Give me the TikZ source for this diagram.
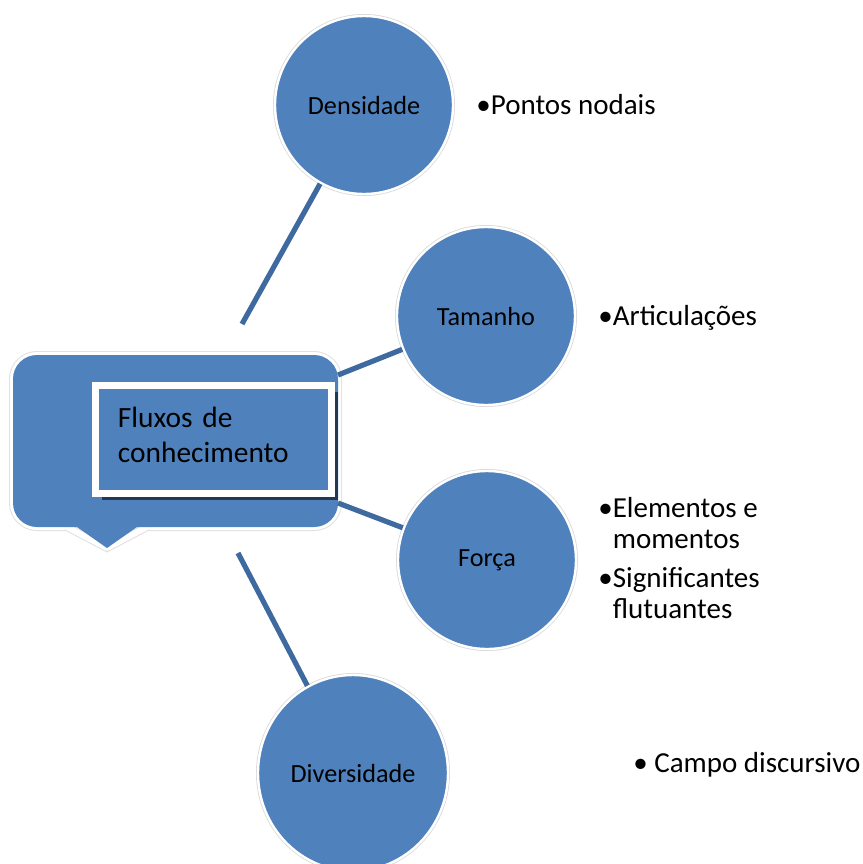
\documentclass[tikz,border=0pt]{standalone}
\usepackage{fontspec}
\setmainfont{Carlito}
\usetikzlibrary{shapes.geometric,shadows}
\definecolor{officeblue}{RGB}{79,129,189}
\definecolor{linkblue}{RGB}{62,106,160}
\begin{document}
\begin{tikzpicture}[x=0.5pt, y=-0.5pt,
  topic/.style={circle, fill=officeblue, draw=white, line width=1.2pt,
    preaction={draw=black!15, line width=2pt},
    minimum size=89pt, inner sep=0pt, font=\fontsize{13.1}{15}\selectfont},
  link/.style={draw=linkblue, line width=2.6pt},
  note/.style={anchor=base west, inner sep=0pt, align=left,
    font=\fontsize{14.5}{15.5}\selectfont}
]
\useasboundingbox (0,0) rectangle (863,864);

% speech bubble behind the title
\path[draw=white, line width=3pt, preaction={draw=black!12, line width=4pt},
  rounded corners=12pt] (13,355) rectangle (338,527);
\path[draw=white, line width=3pt, line join=round,
  preaction={draw=black!12, line width=4pt}] (67,527) -- (107,548) -- (147,527);
\fill[officeblue, rounded corners=12pt] (13,355) rectangle (338,527);
\fill[officeblue] (67,520) -- (107,548) -- (147,520) -- cycle;

\node (fluxos) [fill=officeblue, draw=white, line width=3.5pt,
  minimum width=118pt, minimum height=54pt, text width=95.5pt,
  inner xsep=11.25pt, inner ysep=0pt, text depth=22pt, align=left,
  font=\fontsize{14.7}{17.5}\selectfont,
  drop shadow={shadow xshift=3pt, shadow yshift=-3pt,
    fill=black!70!officeblue, opacity=0.8}]
  at (213.5,439.5) {Fluxos de\\conhecimento};

\node (dens) [topic] at (364,105) {Densidade};
\node (tam) [topic] at (486,316) {Tamanho};
\node (forca) [topic] at (487,560) {Força};
\node (div) [topic, ellipse, minimum width=95pt, minimum height=98pt]
  at (353,773) {Diversidade};

\coordinate (d0) at (242,324);
\coordinate (t0) at (338,375);
\coordinate (f0) at (338,503);
\coordinate (v0) at (238,553);
\draw[link] (d0) -- (dens);
\draw[link] (t0) -- (tam);
\draw[link] (f0) -- (forca);
\draw[link] (v0) -- (div);

\node (pontos) [note] at (476,114) {•Pontos nodais};
\node (artic) [note] at (598,325) {•Articulações};
\node (elem) [note] at (598,618)
  {•Elementos e\\\phantom{•}momentos\\[4pt]•Significantes\\\phantom{•}flutuantes};
\node (campo) [note] at (633,772) {• Campo discursivo};
\end{tikzpicture}
\end{document}
